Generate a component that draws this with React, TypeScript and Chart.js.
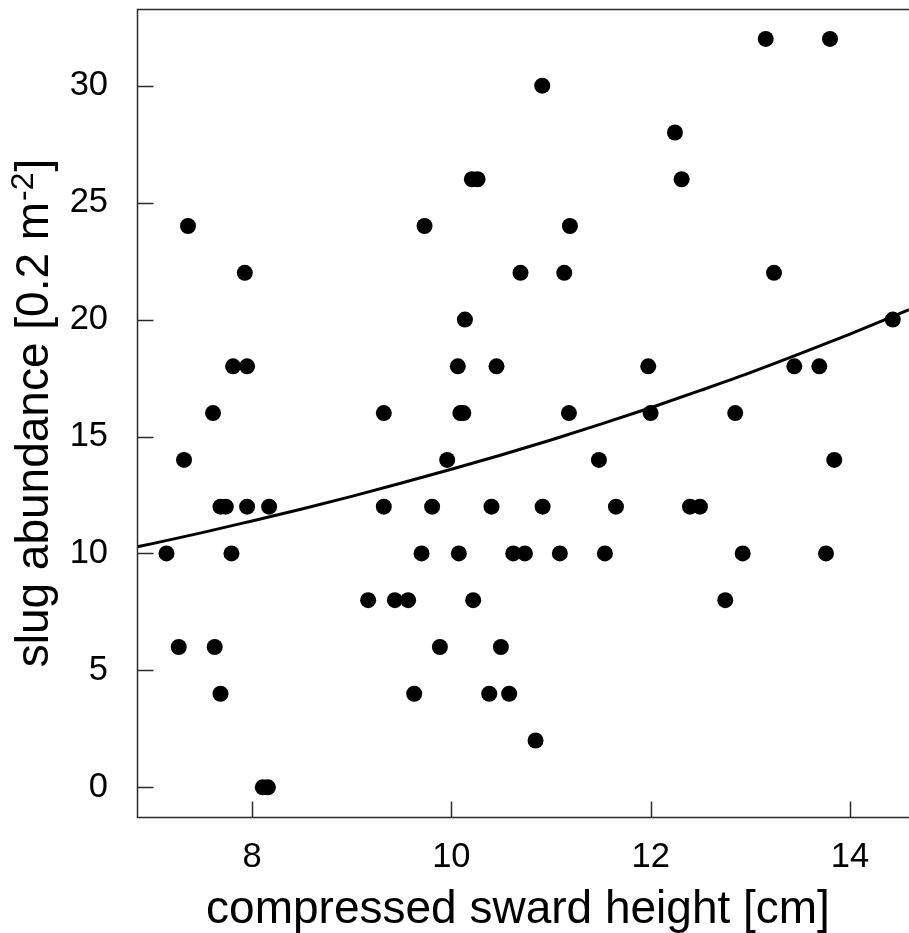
import React, { useEffect, useRef } from "react";
import { Chart, registerables } from "chart.js";

Chart.register(...registerables);

// Sward height (cm) per quadrat
const swardHeight = [
  7.141, 7.264, 7.317, 7.357, 7.608, 7.625, 7.683, 7.683, 7.736, 7.793, 7.809, 7.927, 7.95, 7.95, 8.107, 8.159, 8.171,
  9.165, 9.322, 9.322, 9.433, 9.566, 9.627, 9.701, 9.731, 9.807, 9.885, 9.958, 10.065, 10.075, 10.09, 10.12, 10.136,
  10.206, 10.263, 10.219, 10.38, 10.403, 10.453, 10.497, 10.58, 10.621, 10.694, 10.738, 10.845, 10.912, 10.916,
  11.089, 11.133, 11.18, 11.19, 11.481, 11.541, 11.652, 11.976, 12.0,
  12.244, 12.311, 12.395, 12.495, 12.749, 12.849, 12.924, 13.155, 13.238, 13.442, 13.693, 13.76, 13.8, 13.843, 14.43,
];

// Slug counts per 0.2 m² quadrat
const slugCount = [
  10, 6, 14, 24, 16, 6, 4, 12, 12, 10, 18, 22, 18, 12, 0, 0, 12,
  8, 16, 12, 8, 8, 4, 10, 24, 12, 6, 14, 18, 10, 16, 16, 20,
  26, 26, 8, 4, 12, 18, 6, 4, 10, 22, 10, 2, 30, 12,
  10, 22, 16, 24, 14, 10, 12, 18, 16,
  28, 26, 12, 12, 8, 16, 10, 32, 22, 18, 18, 10, 32, 14, 20,
];

// Fitted (log-link) trend curve
const fitX = [6.845, 7, 7.5, 8, 8.5, 9, 9.5, 10, 10.5, 11, 11.5, 12, 12.5, 13, 13.5, 14, 14.593];
const fitY = [10.28, 10.42, 10.89, 11.39, 11.9, 12.44, 13.01, 13.6, 14.21, 14.85, 15.53, 16.23, 16.97, 17.73, 18.54, 19.38, 20.42];

const xTicks = [8, 10, 12, 14];
const yTicks = [0, 5, 10, 15, 20, 25, 30];

const xTitle = "compressed sward height [cm]";
const yTitleMain = "slug abundance [0.2 m";
const yTitleSup = "-2";
const yTitleEnd = "]";

const FONT = '"Liberation Sans", Arial, sans-serif';

const zeroPadding = (s: any) => {
  s.paddingTop = 0;
  s.paddingBottom = 0;
  s.paddingLeft = 0;
  s.paddingRight = 0;
};

const framePlugin = {
  id: "frameAndTitles",
  afterDraw(chart: any) {
    const { ctx, chartArea } = chart;
    const xs = chart.scales.x;
    const ys = chart.scales.y;
    const { left, top, right, bottom } = chartArea;
    ctx.save();
    ctx.strokeStyle = "#2a2a2a";
    ctx.lineWidth = 1.5;
    ctx.beginPath();
    ctx.moveTo(right + 2, top + 0.5);
    ctx.lineTo(left + 0.5, top + 0.5);
    ctx.lineTo(left + 0.5, bottom + 0.5);
    ctx.lineTo(right + 2, bottom + 0.5);
    // inward ticks
    const tl = 16;
    xTicks.forEach((v) => {
      const px = Math.round(xs.getPixelForValue(v)) + 0.5;
      ctx.moveTo(px, bottom + 0.5);
      ctx.lineTo(px, bottom + 0.5 - tl);
    });
    yTicks.forEach((v) => {
      const py = Math.round(ys.getPixelForValue(v)) + 0.5;
      ctx.moveTo(left + 0.5, py);
      ctx.lineTo(left + 0.5 + tl, py);
    });
    ctx.stroke();

    // axis titles
    ctx.fillStyle = "#000";
    ctx.font = `46px ${FONT}`;
    ctx.textAlign = "center";
    ctx.textBaseline = "alphabetic";
    ctx.fillText(xTitle, 518, 923);

    ctx.translate(48, (top + bottom) / 2);
    ctx.rotate(-Math.PI / 2);
    ctx.textAlign = "left";
    ctx.font = `46px ${FONT}`;
    const wMain = ctx.measureText(yTitleMain).width;
    const wEnd = ctx.measureText(yTitleEnd).width;
    ctx.font = `32px ${FONT}`;
    const wSup = ctx.measureText(yTitleSup).width;
    const total = wMain + wSup + wEnd + 2;
    let x0 = -total / 2;
    ctx.font = `46px ${FONT}`;
    ctx.fillText(yTitleMain, x0, 0);
    x0 += wMain + 1;
    ctx.font = `32px ${FONT}`;
    ctx.fillText(yTitleSup, x0, -15);
    x0 += wSup + 1;
    ctx.font = `46px ${FONT}`;
    ctx.fillText(yTitleEnd, x0, 0);
    ctx.restore();
  },
};

export default function App() {
  const ref = useRef<HTMLCanvasElement | null>(null);

  useEffect(() => {
    if (!ref.current) return;
    const chart = new Chart(ref.current, {
      type: "scatter",
      data: {
        datasets: [
          {
            type: "line",
            data: fitX.map((x, i) => ({ x, y: fitY[i] })),
            borderColor: "#000",
            borderWidth: 3,
            pointRadius: 0,
            fill: false,
            tension: 0.4,
            cubicInterpolationMode: "monotone",
            order: 0,
          } as any,
          {
            data: swardHeight.map((x, i) => ({ x, y: slugCount[i] })),
            backgroundColor: "#000",
            borderWidth: 0,
            pointRadius: 8,
            pointHoverRadius: 8,
            order: 1,
          },
        ],
      },
      options: {
        animation: false,
        responsive: false,
        events: [],
        layout: { autoPadding: false, padding: { left: 0, top: 9, right: 0, bottom: 0 } },
        plugins: { legend: { display: false }, tooltip: { enabled: false } },
        scales: {
          x: {
            type: "linear",
            min: 6.845,
            max: 14.593,
            afterFit: (s: any) => {
              s.height = 116;
              zeroPadding(s);
            },
            afterBuildTicks: (s: any) => {
              s.ticks = xTicks.map((v) => ({ value: v }));
            },
            grid: { display: false, drawTicks: false },
            border: { display: false },
            ticks: {
              autoSkip: false,
              maxRotation: 0,
              padding: 20,
              color: "#000",
              font: { family: FONT, size: 34.5 },
              callback: (v: any) => String(v),
            },
          },
          y: {
            type: "linear",
            min: -1.27,
            max: 33.28,
            afterFit: (s: any) => {
              s.width = 137;
              zeroPadding(s);
            },
            afterBuildTicks: (s: any) => {
              s.ticks = yTicks.map((v) => ({ value: v }));
            },
            grid: { display: false, drawTicks: false },
            border: { display: false },
            ticks: {
              autoSkip: false,
              padding: 29,
              color: "#000",
              font: { family: FONT, size: 34.5 },
              callback: (v: any) => String(v),
            },
          },
        },
      } as any,
      plugins: [framePlugin],
    });
    return () => chart.destroy();
  }, []);

  return (
    <div style={{ position: "absolute", left: 0, top: 0, width: 909, height: 933, background: "#fff" }}>
      <canvas ref={ref} width={909} height={933} style={{ display: "block" }} />
    </div>
  );
}
